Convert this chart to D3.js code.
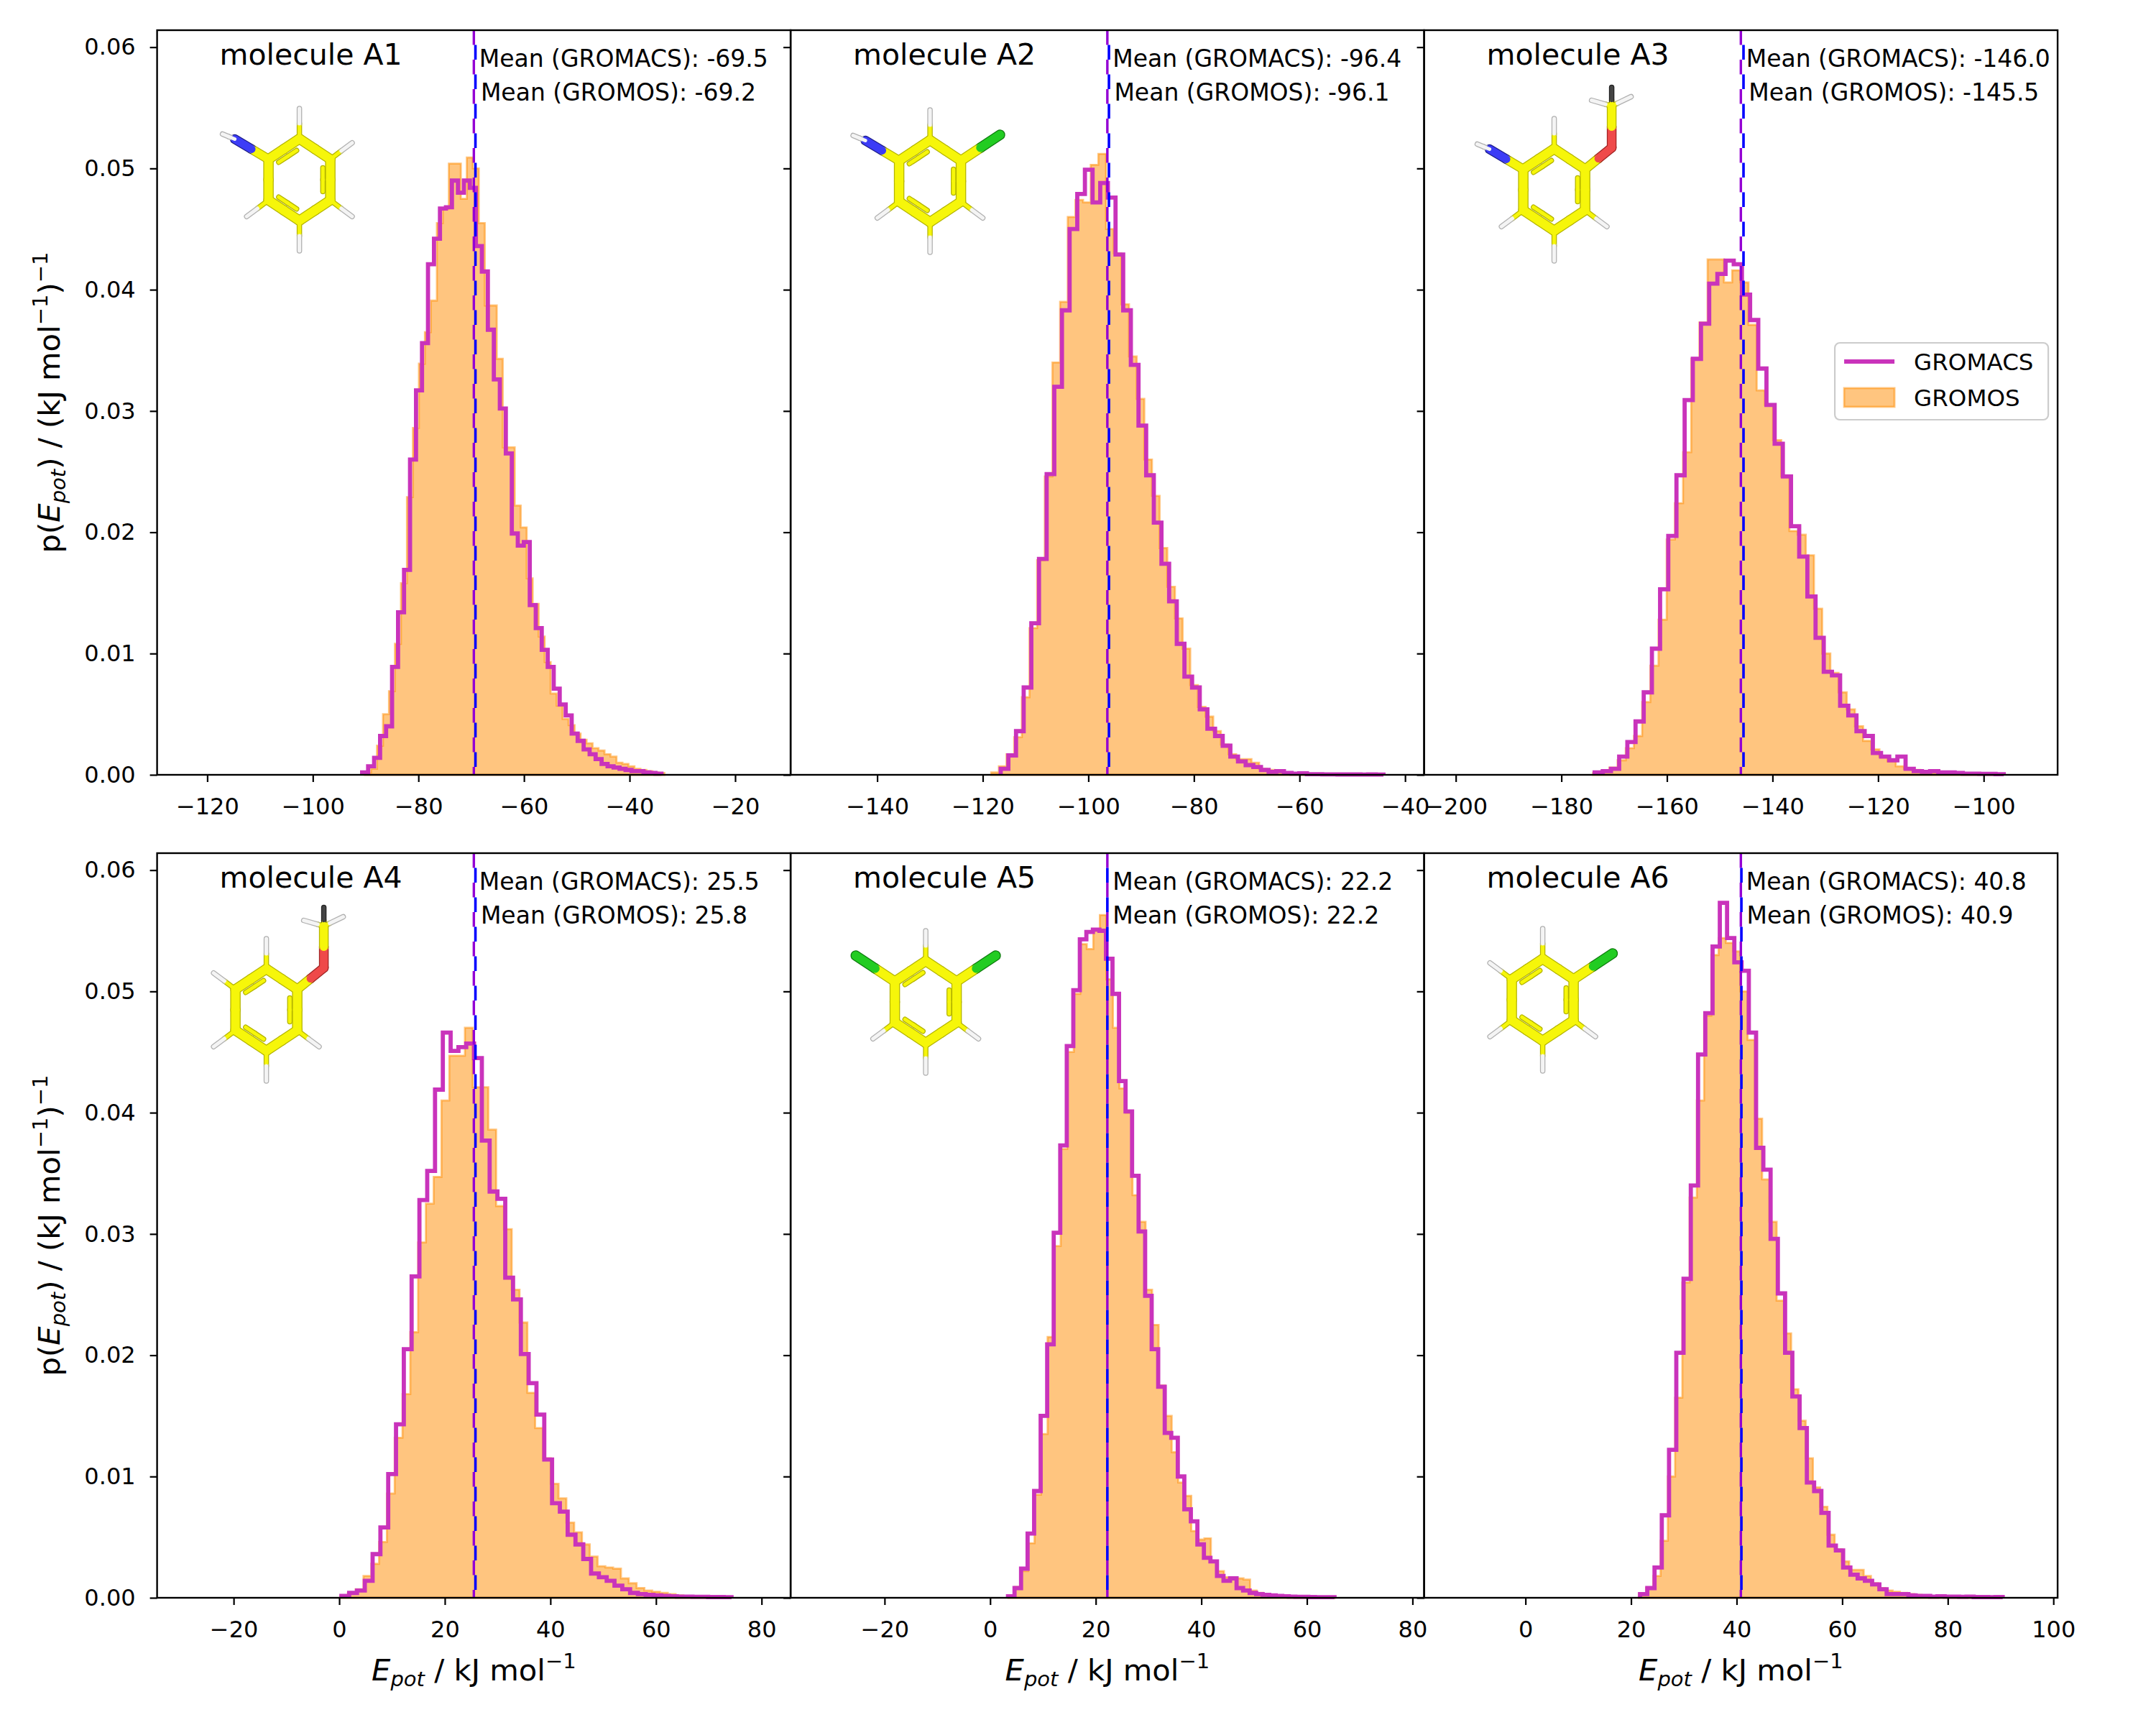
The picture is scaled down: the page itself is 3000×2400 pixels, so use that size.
<!DOCTYPE html>
<html>
<head>
<meta charset="utf-8">
<script src="https://cdn.jsdelivr.net/npm/d3@7"></script>
<style>
  body { margin: 0; background: #fff; }
  svg { display: block; font-family: "DejaVu Sans", sans-serif; }
</style>
</head>
<body>
<svg id="chart"></svg>
<script>
// ---- data ----
var panelNames = ["molecule A1", "molecule A2", "molecule A3", "molecule A4", "molecule A5", "molecule A6"]
var meanGromacs = [-69.5, -96.4, -146.0, 25.5, 22.2, 40.8]
var meanGromos = [-69.2, -96.1, -145.5, 25.8, 22.2, 40.9]

// histogram bins: left edge of first bin and bin width (kJ/mol), 50 bins each
var gromacsStart = [-90.66, -116.6, -173.7, 0.41, 3.38, 21.7]
var gromacsBinWidth = [1.134, 1.45, 1.55, 1.478, 1.237, 1.374]
var gromosStart = [-90.11, -118.4, -174.0, 0.16, 3.46, 21.47]
var gromosBinWidth = [1.134, 1.45, 1.55, 1.478, 1.237, 1.374]

// probability densities, in units of 1e-3 (kJ/mol)^-1
var gromacsA1 = [0.2,0.7,1.4,3.2,4.0,8.9,13.4,16.9,26.0,31.7, 35.6,42.1,44.2,46.7,46.8,49.0,48.0,49.0,48.4,43.6,
  41.5,36.7,32.6,30.2,26.5,19.9,18.9,19.2,14.0,12.1, 10.3,8.9,7.1,5.8,4.9,3.4,2.8,2.1,1.7,1.3,
  0.9,0.7,0.6,0.5,0.4,0.3,0.3,0.2,0.15,0.1]
var gromosA1 = [0.2,0.5,2.4,5.0,6.9,10.8,15.8,22.9,28.6,33.9, 36.5,39.1,45.5,46.7,50.4,50.4,47.5,50.9,50.0,45.5,
  38.7,38.7,34.3,27.0,27.0,22.2,20.4,16.2,14.1,11.4, 9.3,6.7,5.7,4.6,4.1,3.4,2.9,2.6,2.2,2.0,
  1.7,1.5,1.0,0.9,0.7,0.5,0.4,0.3,0.2,0.15]
var gromacsA2 = [0.5,1.6,3.6,7.2,12.5,17.8,24.8,32.0,38.3,45.0, 47.9,49.9,47.2,48.8,47.6,42.9,38.3,33.8,28.8,24.7,
  20.8,17.4,14.3,10.8,8.1,7.2,5.4,3.8,3.2,2.4, 1.5,1.1,0.8,0.65,0.4,0.25,0.3,0.15,0.1,0.12,
  0.05,0.05,0.04,0.04,0.03,0.03,0.03,0.02,0.03,0.02]
var gromosA2 = [0.2,0.7,1.7,3.1,6.4,12.1,17.7,24.6,34.0,39.0, 46.0,47.4,47.2,50.3,51.2,45.0,43.0,38.8,34.5,31.0,
  26.0,23.0,18.7,15.5,12.9,10.4,7.4,5.6,4.8,3.6, 2.5,1.7,1.3,1.3,1.0,0.5,0.4,0.3,0.2,0.15,
  0.1,0.08,0.06,0.05,0.04,0.04,0.03,0.03,0.02,0.02]
var gromacsA3 = [0.2,0.3,0.5,1.5,2.7,4.4,6.8,10.4,15.3,19.7, 24.7,30.9,34.3,37.2,40.5,41.3,42.4,42.1,39.6,37.5,
  33.5,30.5,27.3,24.6,20.5,18.0,14.7,11.3,8.5,8.2, 5.7,4.9,3.6,3.2,1.8,1.5,1.2,1.5,0.5,0.3,
  0.25,0.3,0.2,0.2,0.15,0.1,0.1,0.08,0.08,0.05]
var gromosA3 = [0.15,0.3,0.6,1.2,2.2,3.2,6.0,9.0,12.8,19.4, 22.4,26.6,34.3,37.3,42.5,42.5,40.6,41.6,40.6,37.1,
  31.7,30.5,27.6,24.6,20.1,19.8,18.1,13.7,10.0,8.4, 6.8,5.4,4.0,2.8,2.1,1.5,1.1,0.7,0.5,0.4,
  0.3,0.2,0.2,0.1,0.1,0.08,0.06,0.05,0.05,0.04]
var gromacsA4 = [0.15,0.4,0.6,1.4,3.6,5.8,10.2,14.3,20.5,26.5, 32.8,35.2,41.9,46.6,45.1,45.4,45.7,44.5,37.7,33.5,
  32.9,26.4,24.6,20.1,17.7,15.1,11.4,7.8,7.1,5.2, 4.4,3.2,2.0,1.7,1.4,1.0,0.7,0.4,0.3,0.25,
  0.2,0.15,0.12,0.1,0.1,0.08,0.08,0.06,0.06,0.05]
var gromosA4 = [0.1,0.4,0.7,1.8,2.8,4.6,8.6,13.2,16.8,21.9, 29.3,32.5,34.7,41.0,44.7,44.7,47.0,42.1,42.1,38.6,
  32.3,30.4,25.4,22.7,16.9,14.0,11.5,9.4,8.2,6.2, 5.4,4.4,3.4,2.6,2.5,2.4,1.6,1.2,0.8,0.6,
  0.5,0.4,0.3,0.2,0.15,0.1,0.1,0.05,0.04,0.04]
var gromacsA5 = [0.12,0.8,2.4,5.3,8.8,15.0,20.9,30.1,37.3,45.5, 50.1,54.3,54.9,55.1,55.0,52.7,49.8,42.6,40.1,34.8,
  30.2,24.9,20.5,17.4,13.6,13.2,10.0,7.3,6.3,4.4, 3.3,3.0,1.8,1.4,1.6,0.8,0.6,0.4,0.3,0.25,
  0.2,0.15,0.12,0.1,0.08,0.08,0.06,0.05,0.05,0.05]
var gromosA5 = [0.2,0.9,2.2,4.5,8.5,13.5,21.5,29.0,37.0,45.0, 49.8,53.9,53.5,55.0,56.3,51.0,47.0,42.0,40.0,33.2,
  31.0,25.4,22.5,17.5,15.0,12.0,9.5,8.4,5.5,4.8, 4.9,3.0,2.2,1.7,1.6,1.6,1.5,0.6,0.4,0.3,
  0.25,0.2,0.15,0.1,0.1,0.08,0.06,0.05,0.05,0.04]
var gromacsA6 = [0.3,0.8,2.5,6.8,12.2,20.2,26.3,34.0,44.8,48.2, 53.7,57.3,54.4,52.4,51.7,46.6,37.1,35.3,29.6,25.1,
  20.2,16.6,14.0,9.5,8.8,7.0,4.3,3.9,2.5,1.9, 1.6,1.4,1.1,0.7,0.3,0.3,0.3,0.2,0.15,0.15,
  0.1,0.12,0.1,0.1,0.08,0.1,0.06,0.06,0.05,0.06]
var gromosA6 = [0.3,0.8,1.8,4.7,10.0,16.5,26.0,33.0,41.0,48.0, 53.0,54.4,54.0,53.3,50.0,46.0,39.5,34.5,31.0,24.5,
  21.8,17.2,14.6,11.5,9.1,7.5,5.2,4.0,3.0,2.3, 2.3,1.8,1.2,0.8,0.6,0.5,0.4,0.3,0.25,0.2,
  0.15,0.1,0.1,0.08,0.07,0.06,0.05,0.05,0.04,0.04]

var gromacsSeries = [gromacsA1, gromacsA2, gromacsA3, gromacsA4, gromacsA5, gromacsA6]
var gromosSeries = [gromosA1, gromosA2, gromosA3, gromosA4, gromosA5, gromosA6]

var xTickValues = [
  [-120, -100, -80, -60, -40, -20],
  [-140, -120, -100, -80, -60, -40],
  [-200, -180, -160, -140, -120, -100],
  [-20, 0, 20, 40, 60, 80],
  [-20, 0, 20, 40, 60, 80],
  [0, 20, 40, 60, 80, 100]
]
var yTickValues = [0, 10, 20, 30, 40, 50, 60]
var yTickLabels = ["0.00", "0.01", "0.02", "0.03", "0.04", "0.05", "0.06"]
var legendLabels = ["GROMACS", "GROMOS"]

// ---- layout ----
var W = 3000, H = 2400
var left0 = 218.6, colW = 881.5, rowTops = [42, 1187], rowH = 1036
var yMax = 61.4
var gromacsColor = "#c933bb", gromosColor = "#ff8c00"
var meanLineColor = "#9400d3", gromosLineColor = "#0000ff"

var svg = d3.select("#chart").attr("width", W).attr("height", H)
svg.append("rect").attr("width", W).attr("height", H).attr("fill", "#fff")

function fmtTick(v) { return v < 0 ? "\u2212" + Math.abs(v) : String(v) }

function histPoints(start, w, vals) {
  var pts = [[start, 0]]
  vals.forEach(function(v, i) { pts.push([start + i * w, v]) })
  pts.push([start + vals.length * w, vals[vals.length - 1]])
  pts.push([start + vals.length * w, 0])
  return pts
}

// little stick drawings of the molecules (decoration only)
var molSpecs = [
  { c: [198, 208], subs: ["H", "H", "H", "H", "H", "N"] },
  { c: [194, 210], subs: ["H", "Cl", "H", "H", "H", "N"] },
  { c: [181, 222], subs: ["H", "OMe", "H", "H", "H", "N"] },
  { c: [152, 218], subs: ["H", "OMe", "H", "H", "H", "H"] },
  { c: [188, 207], subs: ["H", "Cl", "H", "H", "H", "Cl"] },
  { c: [165, 204], subs: ["H", "Cl", "H", "H", "H", "H"] }
]
var atomFill = { C: "#f6f60a", H: "#f4f4f4", N: "#3c3cf6", Cl: "#22cc22", O: "#ef4a4a", Hd: "#444444" }
var atomEdge = { C: "#b4b400", H: "#b0b0b0", N: "#1c1c88", Cl: "#0d7a0d", O: "#a02424", Hd: "#222222" }

function drawMolecule(g, cx, cy, subs) {
  var rx = 43, ry = 57
  var ring = [[0, -ry], [rx, -ry / 2], [rx, ry / 2], [0, ry], [-rx, ry / 2], [-rx, -ry / 2]]
    .map(function(p) { return [cx + p[0], cy + p[1]] })
  var bonds = []
  for (var k = 0; k < 6; k++) bonds.push({ a: ring[k], b: ring[(k + 1) % 6], ta: "C", tb: "C", w: 12 })
  var dirs = [[0, -1], [0.8, -0.6], [0.8, 0.6], [0, 1], [-0.8, 0.6], [-0.8, -0.6]]
  subs.forEach(function(s, k) {
    var v = ring[k], d = dirs[k]
    if (s === "H") {
      var len = d[0] === 0 ? 42 : 38
      bonds.push({ a: v, b: [v[0] + d[0] * len, v[1] + d[1] * len], ta: "C", tb: "H", w: 5 })
    } else if (s === "Cl") {
      bonds.push({ a: v, b: [v[0] + d[0] * 68, v[1] + d[1] * 60], ta: "C", tb: "Cl", w: 12 })
    } else if (s === "N") {
      var n = [v[0] - 47, v[1] - 28]
      bonds.push({ a: v, b: n, ta: "C", tb: "N", w: 11 })
      bonds.push({ a: n, b: [n[0] - 17, n[1] - 7], ta: "H", tb: "H", w: 5 })
    } else if (s === "OMe") {
      var o = [v[0] + 37, v[1] - 30], c = [o[0], o[1] - 58]
      bonds.push({ a: v, b: o, ta: "C", tb: "O", w: 11 })
      bonds.push({ a: o, b: c, ta: "O", tb: "C", w: 11 })
      bonds.push({ a: c, b: [c[0] - 28, c[1] - 8], ta: "C", tb: "H", w: 5, half: 0.3 })
      bonds.push({ a: c, b: [c[0] + 27, c[1] - 13], ta: "C", tb: "H", w: 5, half: 0.3 })
      bonds.push({ a: c, b: [c[0], c[1] - 26], ta: "C", tb: "Hd", w: 5, half: 0.3 })
    }
  })
  // inner lines of the aromatic ring
  ;[[5, 0], [1, 2], [3, 4]].forEach(function(e) {
    var a = ring[e[0]], b = ring[e[1]]
    var ia = [a[0] + (cx - a[0]) * 0.24, a[1] + (cy - a[1]) * 0.24]
    var ib = [b[0] + (cx - b[0]) * 0.24, b[1] + (cy - b[1]) * 0.24]
    var p = [ia[0] + (ib[0] - ia[0]) * 0.12, ia[1] + (ib[1] - ia[1]) * 0.12]
    var q = [ia[0] + (ib[0] - ia[0]) * 0.88, ia[1] + (ib[1] - ia[1]) * 0.88]
    bonds.push({ a: p, b: q, ta: "C", tb: "C", w: 5 })
  })
  var outl = g.append("g"), fills = g.append("g")
  bonds.forEach(function(bd) {
    var h = bd.half || 0.5
    var m = [bd.a[0] + (bd.b[0] - bd.a[0]) * h, bd.a[1] + (bd.b[1] - bd.a[1]) * h]
    outl.append("line").attr("x1", bd.a[0]).attr("y1", bd.a[1]).attr("x2", m[0]).attr("y2", m[1])
      .attr("stroke", atomEdge[bd.ta]).attr("stroke-width", bd.w + 2.5).attr("stroke-linecap", "round")
    outl.append("line").attr("x1", m[0]).attr("y1", m[1]).attr("x2", bd.b[0]).attr("y2", bd.b[1])
      .attr("stroke", atomEdge[bd.tb]).attr("stroke-width", bd.w + 2.5).attr("stroke-linecap", "round")
    fills.append("line").attr("x1", bd.a[0]).attr("y1", bd.a[1]).attr("x2", m[0]).attr("y2", m[1])
      .attr("stroke", atomFill[bd.ta]).attr("stroke-width", bd.w).attr("stroke-linecap", "round")
    fills.append("line").attr("x1", m[0]).attr("y1", m[1]).attr("x2", bd.b[0]).attr("y2", bd.b[1])
      .attr("stroke", atomFill[bd.tb]).attr("stroke-width", bd.w).attr("stroke-linecap", "round")
  })
}

panelNames.forEach(function(name, i) {
  var col = i % 3, row = Math.floor(i / 3)
  var x0 = left0 + col * colW, y0 = rowTops[row]
  var x = d3.scaleLinear().domain([meanGromacs[i] - 60, meanGromacs[i] + 60]).range([x0, x0 + colW])
  var y = d3.scaleLinear().domain([0, yMax]).range([y0 + rowH, y0])
  var g = svg.append("g")

  // GROMOS: filled step histogram
  var area = d3.area().curve(d3.curveStepAfter)
    .x(function(d) { return x(d[0]) }).y0(y(0)).y1(function(d) { return y(d[1]) })
  g.append("path")
    .attr("d", area(histPoints(gromosStart[i], gromosBinWidth[i], gromosSeries[i])))
    .attr("fill", gromosColor).attr("fill-opacity", 0.5)
    .attr("stroke", gromosColor).attr("stroke-opacity", 0.5).attr("stroke-width", 2.8)

  // GROMACS: step outline
  var line = d3.line().curve(d3.curveStepAfter)
    .x(function(d) { return x(d[0]) }).y(function(d) { return y(d[1]) })
  g.append("path")
    .attr("d", line(histPoints(gromacsStart[i], gromacsBinWidth[i], gromacsSeries[i])))
    .attr("fill", "none").attr("stroke", gromacsColor).attr("stroke-width", 5.8)
    .attr("stroke-linejoin", "miter")

  // mean lines (dashes in opposite phase)
  g.append("line").attr("x1", x(meanGromacs[i])).attr("x2", x(meanGromacs[i]))
    .attr("y1", y0).attr("y2", y0 + rowH)
    .attr("stroke", meanLineColor).attr("stroke-width", 3.4).attr("stroke-dasharray", "20.5,20.5")
  g.append("line").attr("x1", x(meanGromos[i])).attr("x2", x(meanGromos[i]))
    .attr("y1", y0).attr("y2", y0 + rowH)
    .attr("stroke", gromosLineColor).attr("stroke-width", 3.6).attr("stroke-dasharray", "20.5,20.5")
    .attr("stroke-dashoffset", 20.5)

  // texts
  g.append("text").attr("x", x(meanGromacs[i] + 1)).attr("y", y(58.4))
    .attr("font-size", 33).text("Mean (GROMACS): " + meanGromacs[i].toFixed(1))
  g.append("text").attr("x", x(meanGromos[i] + 1)).attr("y", y(55.6))
    .attr("font-size", 33).text("Mean (GROMOS): " + meanGromos[i].toFixed(1))
  g.append("text").attr("x", x0 + 87).attr("y", y0 + rowH * 0.046)
    .attr("font-size", 41).text(name)

  drawMolecule(g.append("g"), x0 + molSpecs[i].c[0], y0 + molSpecs[i].c[1], molSpecs[i].subs)

  // axes
  var xa = g.append("g").attr("transform", "translate(0," + (y0 + rowH) + ")")
    .call(d3.axisBottom(x).tickValues(xTickValues[i]).tickFormat(fmtTick).tickSize(10).tickPadding(22))
  var ya = g.append("g").attr("transform", "translate(" + x0 + ",0)")
    .call(d3.axisLeft(y).tickValues(yTickValues).tickSize(10).tickPadding(20)
      .tickFormat(function(d, k) { return col === 0 ? yTickLabels[k] : "" }))
  ;[xa, ya].forEach(function(a) {
    a.select(".domain").remove()
    a.selectAll("line").attr("stroke", "#000").attr("stroke-width", 2.2)
    a.selectAll("text").attr("font-size", 32).attr("fill", "#000")
      .attr("font-family", "DejaVu Sans, sans-serif")
  })

  g.append("rect").attr("x", x0).attr("y", y0).attr("width", colW).attr("height", rowH)
    .attr("fill", "none").attr("stroke", "#000").attr("stroke-width", 2.4)

  // legend in the third panel
  if (i === 2) {
    var lg = g.append("g").attr("transform", "translate(" + (x0 + 571.5) + "," + (y0 + 435) + ")")
    lg.append("rect").attr("width", 297).attr("height", 107).attr("rx", 7)
      .attr("fill", "#fff").attr("fill-opacity", 0.8).attr("stroke", "#cccccc").attr("stroke-width", 2.2)
    lg.append("line").attr("x1", 13).attr("x2", 83).attr("y1", 26).attr("y2", 26)
      .attr("stroke", gromacsColor).attr("stroke-width", 5.8)
    lg.append("rect").attr("x", 13).attr("y", 63).attr("width", 70).attr("height", 26)
      .attr("fill", gromosColor).attr("fill-opacity", 0.5)
      .attr("stroke", gromosColor).attr("stroke-opacity", 0.5).attr("stroke-width", 2.8)
    lg.selectAll("text.lab").data(legendLabels).enter().append("text").attr("class", "lab")
      .attr("x", 110).attr("y", function(d, k) { return 38 + k * 50 })
      .attr("font-size", 32.5).text(function(d) { return d })
  }
})

// axis labels
function potLabel(t, withP) {
  if (withP) t.append("tspan").text("p(")
  t.append("tspan").attr("font-style", "italic").text("E")
  t.append("tspan").attr("font-style", "italic").attr("font-size", 29).attr("dy", 8).text("pot")
  t.append("tspan").attr("dy", -8).text(withP ? ") / (kJ mol" : " / kJ mol")
  t.append("tspan").attr("font-size", 29).attr("dy", -17).text("\u22121")
  if (withP) {
    t.append("tspan").attr("dy", 17).text(")")
    t.append("tspan").attr("font-size", 29).attr("dy", -17).text("\u22121")
  }
}
rowTops.forEach(function(top) {
  var t = svg.append("text").attr("font-size", 41.7).attr("text-anchor", "middle")
    .attr("transform", "translate(83," + (top + rowH / 2) + ") rotate(-90)")
  potLabel(t, true)
})
;[0, 1, 2].forEach(function(c) {
  var t = svg.append("text").attr("font-size", 41.7).attr("text-anchor", "middle")
    .attr("x", left0 + c * colW + colW / 2).attr("y", 2338)
  potLabel(t, false)
})
</script>
</body>
</html>
